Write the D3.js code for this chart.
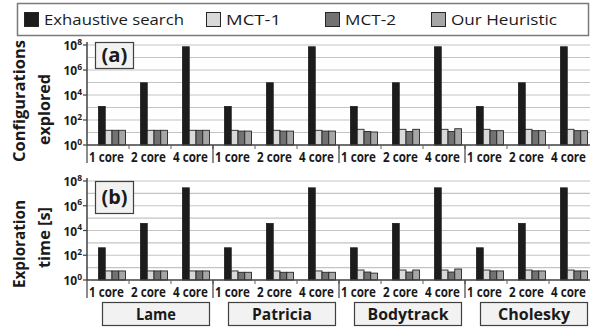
<!DOCTYPE html>
<html>
<head>
<meta charset="utf-8">
<script src="https://cdn.jsdelivr.net/npm/d3@7/dist/d3.min.js"></script>
<style>
  html, body { margin: 0; padding: 0; background: #fff; }
  svg { display: block; }
  text { font-family: "Open Sans", "Noto Sans", sans-serif; fill: #1a1a1a; }
</style>
</head>
<body>
<svg id="chart" width="590" height="328"></svg>
<script>
// ---- data ----
const benchmarks = ["Lame", "Patricia", "Bodytrack", "Cholesky"];
const cores = ["1 core", "2 core", "4 core"];
const seriesNames = ["Exhaustive search", "MCT-1", "MCT-2", "Our Heuristic"];
const seriesColors = ["#1c1c1c", "#d9d9d9", "#727272", "#a6a6a6"];
const yTickExponents = [0, 2, 4, 6, 8];

// configurations explored, one value per (benchmark, core count)
const configExhaustive = [1200, 95000, 72000000, 1200, 95000, 72000000, 1200, 95000, 72000000, 1200, 95000, 72000000];
const configMCT1 = [15, 15, 15, 15, 15, 15, 18, 18, 18, 18, 18, 18];
const configMCT2 = [15, 15, 15, 13, 13, 13, 12, 12, 12, 14, 14, 14];
const configHeuristic = [15, 15, 15, 13, 13, 13, 11, 18, 20, 14, 14, 14];

// exploration time in seconds
const timeExhaustive = [400, 37000, 28000000, 400, 37000, 28000000, 400, 37000, 28000000, 400, 37000, 28000000];
const timeMCT1 = [5.4, 5.4, 5.4, 5.4, 5.4, 5.4, 6.4, 6.4, 6.4, 6.4, 6.4, 6.4];
const timeMCT2 = [5.4, 5.4, 5.4, 4.2, 4.2, 4.2, 4.4, 4.4, 4.4, 5.4, 5.4, 5.4];
const timeHeuristic = [5.4, 5.4, 5.4, 4.2, 4.2, 4.2, 3.6, 6.4, 7.7, 5.4, 5.4, 5.4];

// ---- layout ----
const svg = d3.select("#chart");
const plotLeft = 87, plotRight = 591;
const groups = [];
benchmarks.forEach(b => cores.forEach(c => groups.push(b + "|" + c)));

const x = d3.scaleBand().domain(groups).range([plotLeft, plotRight]).padding(0);
const xSeries = d3.scaleBand().domain(seriesNames).range([11.5, 38.5]).padding(0);
const xBench = d3.scaleBand().domain(benchmarks).range([plotLeft, plotRight]).padding(0);

const panels = [
  { top: 45, bottom: 145, tag: "(a)", tagBox: [95, 42, 38, 26],
    title: ["Configurations", "explored"], titleY: [101, 109.5], titleLen: [122, 71],
    values: [configExhaustive, configMCT1, configMCT2, configHeuristic] },
  { top: 181, bottom: 280, tag: "(b)", tagBox: [95, 181, 38, 32],
    title: ["Exploration", "time [s]"], titleY: [244, 237.5], titleLen: [88, 61],
    values: [timeExhaustive, timeMCT1, timeMCT2, timeHeuristic] }
];

panels.forEach(p => {
  const y = d3.scaleLog().domain([1, 1e8]).range([p.bottom, p.top]);
  const g = svg.append("g");

  // decade gridlines
  g.selectAll("line.grid").data(d3.range(1, 9)).join("line")
    .attr("x1", plotLeft).attr("x2", plotRight)
    .attr("y1", k => y(Math.pow(10, k))).attr("y2", k => y(Math.pow(10, k)))
    .attr("stroke", "#c4c4c4").attr("stroke-width", 1.2);

  // bars
  seriesNames.forEach((s, si) => {
    g.selectAll(null).data(p.values[si]).join("rect")
      .attr("x", (v, i) => x(groups[i]) + xSeries(s))
      .attr("width", xSeries.bandwidth())
      .attr("y", v => y(v))
      .attr("height", v => y(1) - y(v))
      .attr("fill", seriesColors[si])
      .attr("stroke", "#262626").attr("stroke-width", 0.9);
  });

  // y axis line and tick marks
  g.append("line").attr("x1", plotLeft).attr("x2", plotLeft)
    .attr("y1", p.top - 3).attr("y2", p.bottom)
    .attr("stroke", "#404040").attr("stroke-width", 1.5);
  g.selectAll("line.ytick").data(yTickExponents).join("line")
    .attr("x1", plotLeft - 4).attr("x2", plotLeft)
    .attr("y1", e => y(Math.pow(10, e))).attr("y2", e => y(Math.pow(10, e)))
    .attr("stroke", "#404040").attr("stroke-width", 1.2);

  // y tick labels: 10 with a superscript exponent
  const tl = g.selectAll("text.ytl").data(yTickExponents).join("text")
    .attr("x", plotLeft - 5).attr("y", e => y(Math.pow(10, e)) + 5)
    .attr("text-anchor", "end").attr("font-size", 12).attr("font-weight", 700);
  tl.append("tspan").text("10");
  tl.append("tspan").attr("font-size", 8.5).attr("dy", -5.5).text(e => e);

  // x axis baseline
  g.append("line").attr("x1", plotLeft).attr("x2", plotRight)
    .attr("y1", p.bottom).attr("y2", p.bottom)
    .attr("stroke", "#404040").attr("stroke-width", 1.6);

  // short ticks between core groups, long separators between benchmarks
  g.selectAll("line.ctick").data(groups).join("line")
    .attr("x1", d => x(d) + x.bandwidth()).attr("x2", d => x(d) + x.bandwidth())
    .attr("y1", p.bottom).attr("y2", p.bottom + 4)
    .attr("stroke", "#606060").attr("stroke-width", 1);
  g.selectAll("line.bsep").data(benchmarks).join("line")
    .attr("x1", d => xBench(d)).attr("x2", d => xBench(d))
    .attr("y1", p.bottom).attr("y2", p.bottom + 18)
    .attr("stroke", "#404040").attr("stroke-width", 1.2);

  // core labels, narrowed horizontally to fit each 42px group
  g.selectAll("text.core").data(groups).join("text")
    .attr("text-anchor", "middle").attr("font-size", 14).attr("font-weight", 700)
    .text(d => d.split("|")[1])
    .each(function (d) {
      const w = this.getComputedTextLength();
      const sx = 35 / w;
      d3.select(this).attr("transform",
        `translate(${x(d) + x.bandwidth() / 2 - 1.5},${p.bottom + 16.5}) scale(${sx},1)`);
    });

  // panel tag box
  const [bx, by, bw, bh] = p.tagBox;
  g.append("rect").attr("x", bx + 0.5).attr("y", by + 0.5).attr("width", bw).attr("height", bh)
    .attr("fill", "#f2f2f2").attr("stroke", "#404040").attr("stroke-width", 1.2);
  g.append("text").attr("x", bx + bw / 2 + 0.5).attr("y", by + bh / 2 + 6.5)
    .attr("text-anchor", "middle").attr("font-size", 19).attr("font-weight", 700)
    .attr("textLength", 26).attr("lengthAdjust", "spacingAndGlyphs")
    .text(p.tag);

  // rotated axis title (two lines)
  [18.5, 43.5].forEach((cx, li) => {
    g.append("text")
      .attr("transform", `translate(${cx + 6},${p.titleY[li]}) rotate(-90)`)
      .attr("text-anchor", "middle").attr("font-size", 16.5).attr("font-weight", 700)
      .attr("textLength", p.titleLen[li]).attr("lengthAdjust", "spacingAndGlyphs")
      .text(p.title[li]);
  });
});

// benchmark name boxes
const nameLen = { "Lame": 40, "Patricia": 60, "Bodytrack": 81, "Cholesky": 72 };
const bg = svg.append("g");
benchmarks.forEach(b => {
  const cx = xBench(b) + xBench.bandwidth() / 2 + 6;
  bg.append("rect").attr("x", cx - 53.5).attr("y", 302.5).attr("width", 107).attr("height", 23)
    .attr("fill", "#f2f2f2").attr("stroke", "#404040").attr("stroke-width", 1.2);
  bg.append("text").attr("x", cx).attr("y", 319.5)
    .attr("text-anchor", "middle").attr("font-size", 16.5).attr("font-weight", 700)
    .attr("textLength", nameLen[b]).attr("lengthAdjust", "spacingAndGlyphs")
    .text(b);
});

// legend
const legend = svg.append("g");
legend.append("rect").attr("x", 17.5).attr("y", 3.5).attr("width", 571).attr("height", 32)
  .attr("fill", "#fff").attr("stroke", "#7a7a7a").attr("stroke-width", 1.5);
const legendX = [24, 206, 325, 431];
const legendTextLen = [140, 55, 51, 106];
seriesNames.forEach((s, i) => {
  legend.append("rect").attr("x", legendX[i] + 0.5).attr("y", 12.5).attr("width", 14).attr("height", 14)
    .attr("fill", seriesColors[i]).attr("stroke", "#262626").attr("stroke-width", 1);
  legend.append("text").attr("x", legendX[i] + 20).attr("y", 25)
    .attr("font-size", 15)
    .attr("textLength", legendTextLen[i]).attr("lengthAdjust", "spacingAndGlyphs")
    .text(s);
});
</script>
</body>
</html>
